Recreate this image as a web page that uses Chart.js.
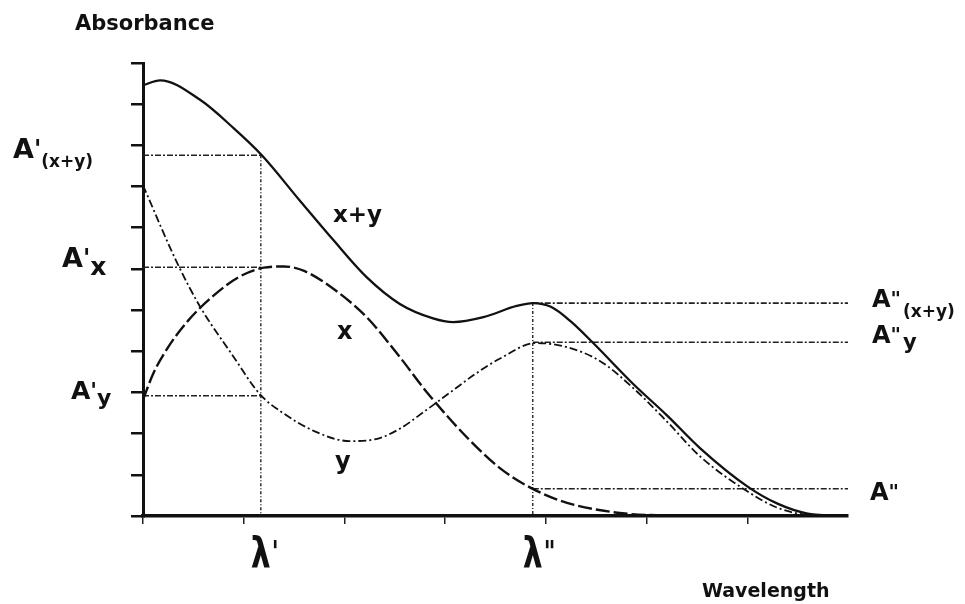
<!DOCTYPE html>
<html>
<head>
<meta charset="utf-8">
<script src="https://cdn.jsdelivr.net/npm/chart.js@4/dist/chart.umd.min.js"></script>
<style>
  html, body { margin: 0; padding: 0; background: #fff; }
  #wrap { width: 965px; height: 604px; }
</style>
</head>
<body>
<div id="wrap"><canvas id="spectrum"></canvas></div>
<script>
// wavelength runs 0..7 and absorbance 0..11, one unit per tick mark

// x+y (mixture) curve
const sumWl  = [0, 0.17, 0.57, 0.89, 1.18, 1.56, 1.89, 2.22, 2.55, 2.88, 3.08, 3.38, 3.71, 3.87, 4.05, 4.25, 4.47, 4.87, 5.20, 5.53, 6.00, 6.30, 6.60, 7.00];
const sumAbs = [10.46, 10.58, 10.1, 9.44, 8.76, 7.65, 6.7, 5.8, 5.15, 4.8, 4.71, 4.83, 5.1, 5.17, 5.08, 4.72, 4.2, 3.2, 2.45, 1.65, 0.72, 0.3, 0.06, 0];

// component x
const xWl  = [0, 0.10, 0.25, 0.45, 0.70, 0.95, 1.20, 1.40, 1.60, 1.90, 2.22, 2.55, 2.82, 3.22, 3.55, 3.87, 4.21, 4.71, 5.10, 6.00, 7.00];
const xAbs = [2.82, 3.45, 4.1, 4.75, 5.35, 5.8, 6.03, 6.06, 5.95, 5.5, 4.83, 3.86, 3.0, 1.9, 1.15, 0.66, 0.32, 0.08, 0.02, 0.01, 0];

// component y
const yWl  = [0, 0.34, 0.57, 0.89, 1.16, 1.39, 1.73, 2.05, 2.30, 2.55, 2.80, 3.05, 3.30, 3.55, 3.90, 4.21, 4.54, 4.87, 5.20, 5.53, 6.00, 6.30, 6.60, 7.00];
const yAbs = [8.03, 6.14, 5.07, 3.9, 2.96, 2.5, 2.03, 1.82, 1.86, 2.12, 2.55, 3.0, 3.45, 3.83, 4.2, 4.1, 3.76, 3.1, 2.3, 1.45, 0.6, 0.2, 0.03, 0];

// the two analytical wavelengths and the absorbances read there
const lambdas = [1.17, 3.87];            // λ', λ''
const readAt1 = [8.76, 6.04, 2.92];      // A'(x+y), A'x, A'y
const readAt2 = [5.17, 4.22, 0.66];      // A''(x+y), A''y, A''
const wlMax = 7, absMax = 11;

const ink = '#111';
const FONT = '"DejaVu Sans", sans-serif';

const pts = (xs, ys) => xs.map((x, i) => ({ x, y: ys[i] }));
const seg = (x0, y0, x1, y1) => [{ x: x0, y: y0 }, { x: x1, y: y1 }];

const curve = { borderColor: ink, cubicInterpolationMode: 'monotone' };
const refLine = { borderColor: '#222', borderWidth: 1.6, borderDash: [6, 2, 2, 2] };
const dropLine = { borderColor: '#222', borderWidth: 1.4, borderDash: [3, 2, 1, 2] };

const datasets = [
    { data: pts(sumWl, sumAbs), ...curve, borderWidth: 2.3 },
    { data: pts(xWl, xAbs), ...curve, borderWidth: 2.4, borderDash: [14, 4] },
    { data: pts(yWl, yAbs), ...curve, borderWidth: 1.8, borderDash: [8, 3, 2, 3] },
    // readings at λ'
    { data: seg(0, readAt1[0], lambdas[0], readAt1[0]), ...refLine },
    { data: seg(0, readAt1[1], lambdas[0], readAt1[1]), ...refLine },
    { data: seg(0, readAt1[2], lambdas[0], readAt1[2]), ...refLine },
    { data: seg(lambdas[0], readAt1[0], lambdas[0], 0), ...dropLine },
    // readings at λ''
    { data: seg(lambdas[1], readAt2[0], wlMax, readAt2[0]), ...refLine },
    { data: seg(lambdas[1], readAt2[1], wlMax, readAt2[1]), ...refLine },
    { data: seg(lambdas[1], readAt2[2], wlMax, readAt2[2]), ...refLine },
    { data: seg(lambdas[1], readAt2[0], lambdas[1], 0), ...dropLine }
].map(d => ({ showLine: true, pointRadius: 0, fill: false, tension: 0, ...d }));

// draws "A" + prime + subscript style labels piece by piece
function drawParts(ctx, x, base, parts) {
    let cx = x;
    parts.forEach(p => {
        ctx.font = `bold ${p.size}px ${FONT}`;
        ctx.fillText(p.t, cx, base + (p.dy || 0));
        cx += ctx.measureText(p.t).width + (p.gap || 0);
    });
}

const labelsPlugin = {
    id: 'labels',
    afterDraw(chart) {
        const { ctx, scales: { x: xs, y: ys } } = chart;
        const px = v => xs.getPixelForValue(v);
        const py = v => ys.getPixelForValue(v);
        ctx.save();
        ctx.fillStyle = ink;
        ctx.textBaseline = 'alphabetic';
        ctx.textAlign = 'left';

        ctx.font = `bold 21px ${FONT}`;
        ctx.fillText('Absorbance', 75, 30);
        ctx.font = `bold 19px ${FONT}`;
        ctx.fillText('Wavelength', 702, 597);

        // left side readings
        drawParts(ctx, 13, py(readAt1[0]) + 3, [
            { t: 'A', size: 27 }, { t: "'", size: 24, dy: -1 }, { t: '(x+y)', size: 17, dy: 9 }]);
        drawParts(ctx, 62, py(readAt1[1]), [
            { t: 'A', size: 27 }, { t: "'", size: 24, dy: -1 }, { t: 'x', size: 25, dy: 8 }]);
        drawParts(ctx, 71, py(readAt1[2]) + 3, [
            { t: 'A', size: 25 }, { t: "'", size: 22, dy: -1 }, { t: 'y', size: 22, dy: 6 }]);

        // right side readings
        const rx = px(wlMax) + 24;
        drawParts(ctx, rx, py(readAt2[0]) + 4, [
            { t: 'A', size: 24 }, { t: '"', size: 20, dy: -2, gap: 2 }, { t: '(x+y)', size: 17, dy: 10 }]);
        drawParts(ctx, rx, py(readAt2[1]) + 1, [
            { t: 'A', size: 24 }, { t: '"', size: 20, dy: -2, gap: 2 }, { t: 'y', size: 21, dy: 6 }]);
        drawParts(ctx, rx - 2, py(readAt2[2]) + 11, [
            { t: 'A', size: 24 }, { t: '"', size: 20, dy: -2 }]);

        // curve names
        ctx.font = `bold 23px ${FONT}`;
        ctx.fillText('x+y', 333, 222);
        ctx.font = `bold 24px ${FONT}`;
        ctx.fillText('x', 337, 339);
        ctx.fillText('y', 335, 469);

        // wavelength marks under the axis
        [["'", 0], ['"', 1]].forEach(([prime, i]) => {
            ctx.save();
            ctx.translate(px(lambdas[i]) - 10, 568);
            ctx.scale(0.75, 1);
            ctx.font = `bold 42px ${FONT}`;
            ctx.fillText('λ', 0, 0);
            ctx.font = `bold 30px ${FONT}`;
            ctx.fillText(prime, 28, -6);
            ctx.restore();
        });
        ctx.restore();
    }
};

new Chart(document.getElementById('spectrum'), {
    type: 'scatter',
    data: { datasets },
    options: {
        responsive: true,
        maintainAspectRatio: false,
        animation: false,
        layout: { padding: { left: 131, right: 117, top: 63, bottom: 80 } },
        plugins: { legend: { display: false }, tooltip: { enabled: false } },
        scales: {
            x: {
                type: 'linear', min: 0, max: wlMax,
                ticks: { display: false, stepSize: 1 },
                grid: {
                    drawOnChartArea: false, tickLength: 8, lineWidth: 1.5,
                    color: c => (c.tick && c.tick.value === wlMax) ? 'rgba(0,0,0,0)' : '#222'
                },
                border: { color: ink, width: 3.5 },
                afterFit: s => { s.height = 8; }
            },
            y: {
                min: 0, max: absMax,
                ticks: { display: false, stepSize: 1 },
                grid: { drawOnChartArea: false, tickLength: 12, lineWidth: 2.5, color: ink },
                border: { color: ink, width: 3 },
                afterFit: s => { s.width = 12; }
            }
        }
    },
    plugins: [labelsPlugin]
});
</script>
</body>
</html>
